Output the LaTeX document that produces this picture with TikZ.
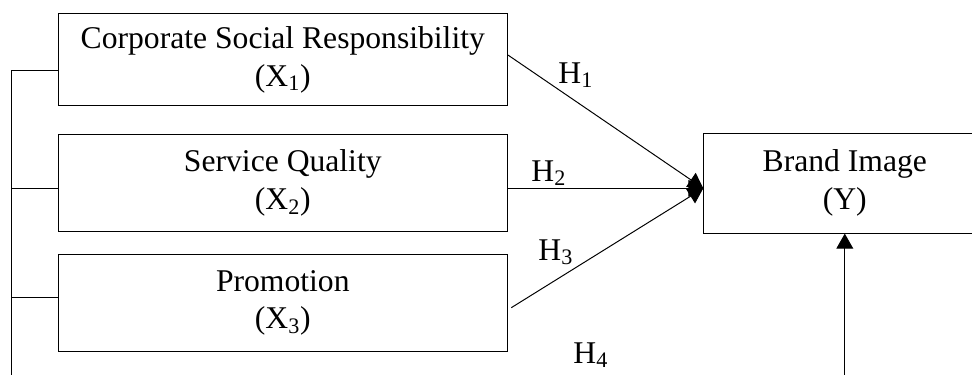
\documentclass[tikz,border=0pt]{standalone}
\usepackage{fontspec}
\setmainfont{Liberation Serif}
\usepackage{tikz}
\usetikzlibrary{positioning,calc,arrows.meta}

\begin{document}
\begin{tikzpicture}[variable/.style={rectangle, draw, minimum width=11.24cm, minimum height=#1, align=center, execute at begin node={\rule{0pt}{19.5pt}}, font=\fontsize{22.5}{27}\selectfont}, hyp/.style={anchor=base west, inner sep=0pt, font=\fontsize{22.5}{27}\selectfont}, line width=0.7pt, >={Triangle[length=0.375cm,width=0.42cm]}]
\useasboundingbox (0,0) rectangle (24.3,-9.35);

%--variabili indipendenti
\node [variable=2.31cm] (csr) at (7.07,-1.488) {Corporate Social Responsibility\\(X\textsubscript{1})};
\node [variable=2.44cm, below=0.69cm of csr] (sq) {Service Quality\\(X\textsubscript{2})};
\node [variable=2.44cm, below=0.53cm of sq] (promo) {Promotion\\(X\textsubscript{3})};

%--variabile dipendente
\node [variable=2.5cm, minimum width=7.05cm, right=4.88cm of sq] (brand) {Brand Image\\(Y)};

%--ipotesi
\draw[->] ($(csr.east)+(0,0.11)$) -- ($(brand.west)+(0,-0.13)$);
\draw[->] ($(sq.east)+(0,-0.13)$) -- ($(brand.west)+(0,-0.13)$);
\draw[->] ($(promo.east)+(0.08,-0.12)$) -- ($(brand.west)+(0,-0.13)$);

\node [hyp] (h1) at (13.95,-2.075) {H\textsubscript{1}};
\node [hyp] (h2) at (13.275,-4.525) {H\textsubscript{2}};
\node [hyp] (h3) at (13.45,-6.5) {H\textsubscript{3}};
\node [hyp] (h4) at (14.325,-9.075) {H\textsubscript{4}};

%--collegamento simultaneo
\coordinate (spinebot) at (0.29,-9.6);
\draw ($(csr.west)+(0,-0.27)$) -| (spinebot);
\draw ($(sq.west)+(0,-0.13)$) -| (spinebot);
\draw ($(promo.west)+(0,0.13)$) -| (spinebot);

\coordinate (brandfoot) at (brand.south |- spinebot);
\draw[->] (brandfoot) -- (brand.south);

\end{tikzpicture}
\end{document}
